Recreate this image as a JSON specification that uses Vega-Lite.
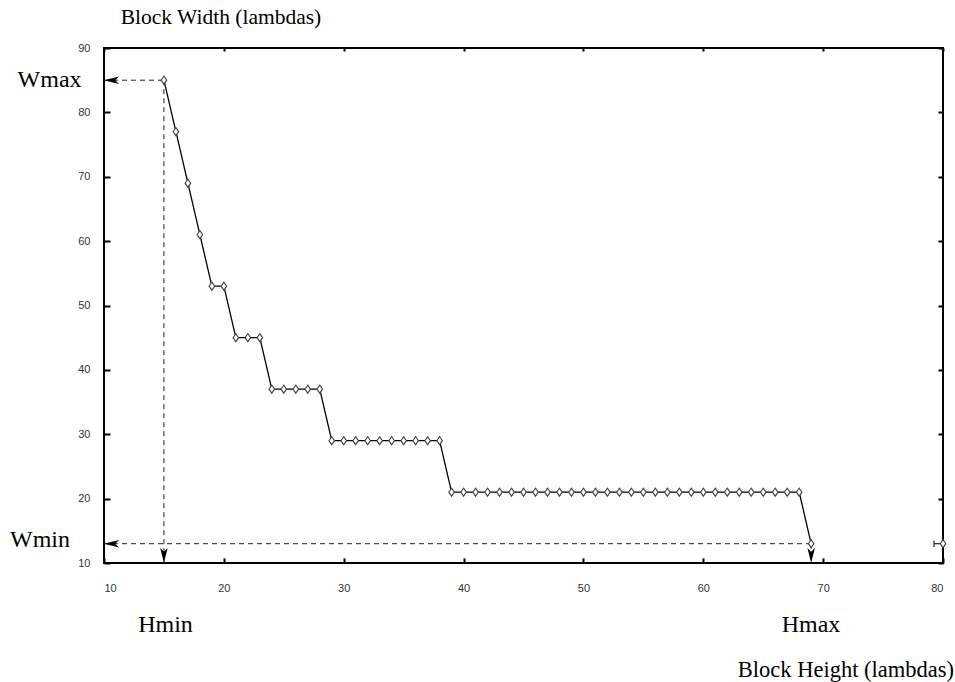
{
  "$schema": "https://vega.github.io/schema/vega-lite/v6.json",
  "width": 839,
  "height": 515,
  "autosize": {"type": "none"},
  "padding": {"left": 104, "top": 48, "right": 12, "bottom": 119},
  "background": "white",
  "config": {
    "view": {"stroke": "black", "strokeWidth": 2},
    "axis": {"domain": false, "grid": false, "labelFont": "Liberation Sans", "labelFontSize": 11, "labelColor": "#333", "tickColor": "black", "tickWidth": 2, "title": null}
  },
  "datasets": {
    "series": [
      {"h": 15, "w": 85}, {"h": 16, "w": 77}, {"h": 17, "w": 69}, {"h": 18, "w": 61},
      {"h": 19, "w": 53}, {"h": 20, "w": 53}, {"h": 21, "w": 45}, {"h": 22, "w": 45},
      {"h": 23, "w": 45}, {"h": 24, "w": 37}, {"h": 25, "w": 37}, {"h": 26, "w": 37},
      {"h": 27, "w": 37}, {"h": 28, "w": 37}, {"h": 29, "w": 29}, {"h": 30, "w": 29},
      {"h": 31, "w": 29}, {"h": 32, "w": 29}, {"h": 33, "w": 29}, {"h": 34, "w": 29},
      {"h": 35, "w": 29}, {"h": 36, "w": 29}, {"h": 37, "w": 29}, {"h": 38, "w": 29},
      {"h": 39, "w": 21}, {"h": 40, "w": 21}, {"h": 41, "w": 21}, {"h": 42, "w": 21},
      {"h": 43, "w": 21}, {"h": 44, "w": 21}, {"h": 45, "w": 21}, {"h": 46, "w": 21},
      {"h": 47, "w": 21}, {"h": 48, "w": 21}, {"h": 49, "w": 21}, {"h": 50, "w": 21},
      {"h": 51, "w": 21}, {"h": 52, "w": 21}, {"h": 53, "w": 21}, {"h": 54, "w": 21},
      {"h": 55, "w": 21}, {"h": 56, "w": 21}, {"h": 57, "w": 21}, {"h": 58, "w": 21},
      {"h": 59, "w": 21}, {"h": 60, "w": 21}, {"h": 61, "w": 21}, {"h": 62, "w": 21},
      {"h": 63, "w": 21}, {"h": 64, "w": 21}, {"h": 65, "w": 21}, {"h": 66, "w": 21},
      {"h": 67, "w": 21}, {"h": 68, "w": 21}, {"h": 69, "w": 13}
    ],
    "extra": [{"h": 80, "w": 13}],
    "guides": [
      {"x": 10, "x2": 15, "y": 85, "y2": 85},
      {"x": 15, "x2": 15, "y": 85, "y2": 10},
      {"x": 10, "x2": 69, "y": 13, "y2": 13},
      {"x": 69, "x2": 69, "y": 13, "y2": 10}
    ],
    "arrows": [
      {"x": 10, "y": 85, "dir": "left"},
      {"x": 10, "y": 13, "dir": "left"},
      {"x": 15, "y": 10, "dir": "down"},
      {"x": 69, "y": 10, "dir": "down"}
    ],
    "errbar": [
      {"x": 79.25, "x2": 80, "y": 13, "y2": 13},
      {"x": 79.25, "x2": 79.25, "y": 12.5, "y2": 13.5}
    ],
    "labels": [
      {"x": 5.46, "y": 83.94, "t": "Wmax", "s": 24},
      {"x": 4.66, "y": 12.53, "t": "Wmin", "s": 24},
      {"x": 15.13, "y": -0.67, "t": "Hmin", "s": 24},
      {"x": 68.99, "y": -0.67, "t": "Hmax", "s": 24},
      {"x": 19.76, "y": 93.73, "t": "Block Width (lambdas)", "s": 21.5},
      {"x": 71.9, "y": -7.71, "t": "Block Height (lambdas)", "s": 22.5}
    ]
  },
  "resolve": {"axis": {"x": "independent", "y": "independent"}},
  "layer": [
    {
      "data": {"name": "guides"},
      "mark": {"type": "rule", "strokeDash": [5, 4], "strokeWidth": 1, "color": "#222"},
      "encoding": {
        "x": {"field": "x", "type": "quantitative", "scale": {"domain": [10, 80], "nice": false, "zero": false},
              "axis": {"orient": "bottom", "values": [10, 20, 30, 40, 50, 60, 70, 80], "tickSize": -5, "labelPadding": 24}},
        "x2": {"field": "x2"},
        "y": {"field": "y", "type": "quantitative", "scale": {"domain": [10, 90], "nice": false, "zero": false},
              "axis": {"orient": "left", "values": [10, 20, 30, 40, 50, 60, 70, 80, 90], "tickSize": -6, "labelPadding": 20}},
        "y2": {"field": "y2"}
      }
    },
    {
      "data": {"name": "series"},
      "mark": {"type": "line", "color": "black", "strokeWidth": 1.3},
      "encoding": {
        "x": {"field": "h", "type": "quantitative", "axis": {"orient": "top", "values": [10, 20, 30, 40, 50, 60, 70, 80], "tickSize": -3, "labels": false}},
        "y": {"field": "w", "type": "quantitative", "axis": {"orient": "right", "values": [10, 20, 30, 40, 50, 60, 70, 80, 90], "tickSize": -5, "labels": false}}
      }
    },
    {
      "data": {"name": "series"},
      "mark": {"type": "point", "shape": "M0,-1L0.7,0L0,1L-0.7,0Z", "size": 64, "filled": false, "fill": "white", "fillOpacity": 1, "stroke": "#444", "strokeWidth": 1.1, "opacity": 1},
      "encoding": {
        "x": {"field": "h", "type": "quantitative", "axis": null},
        "y": {"field": "w", "type": "quantitative", "axis": null}
      }
    },
    {
      "data": {"name": "errbar"},
      "mark": {"type": "rule", "color": "#222", "strokeWidth": 1.2},
      "encoding": {
        "x": {"field": "x", "type": "quantitative", "axis": null},
        "x2": {"field": "x2"},
        "y": {"field": "y", "type": "quantitative", "axis": null},
        "y2": {"field": "y2"}
      }
    },
    {
      "data": {"name": "extra"},
      "mark": {"type": "point", "shape": "M0,-1L0.7,0L0,1L-0.7,0Z", "size": 64, "filled": false, "fill": "white", "fillOpacity": 1, "stroke": "#444", "strokeWidth": 1.1, "opacity": 1, "clip": false},
      "encoding": {
        "x": {"field": "h", "type": "quantitative", "axis": null},
        "y": {"field": "w", "type": "quantitative", "axis": null}
      }
    },
    {
      "data": {"name": "arrows"},
      "mark": {"type": "point", "filled": true, "color": "black", "opacity": 1, "size": 225},
      "encoding": {
        "x": {"field": "x", "type": "quantitative", "axis": null},
        "y": {"field": "y", "type": "quantitative", "axis": null},
        "shape": {"field": "dir", "type": "nominal", "legend": null,
                  "scale": {"domain": ["left", "down"], "range": ["M0,0L2,-0.5L1.5,0L2,0.5Z", "M0,0L-0.5,-2L0,-1.5L0.5,-2Z"]}}
      }
    },
    {
      "data": {"name": "labels"},
      "mark": {"type": "text", "font": "Liberation Serif", "color": "black", "baseline": "alphabetic", "align": "center"},
      "encoding": {
        "x": {"field": "x", "type": "quantitative", "axis": null},
        "y": {"field": "y", "type": "quantitative", "axis": null},
        "text": {"field": "t"},
        "size": {"field": "s", "type": "quantitative", "scale": null, "legend": null}
      }
    }
  ]
}
